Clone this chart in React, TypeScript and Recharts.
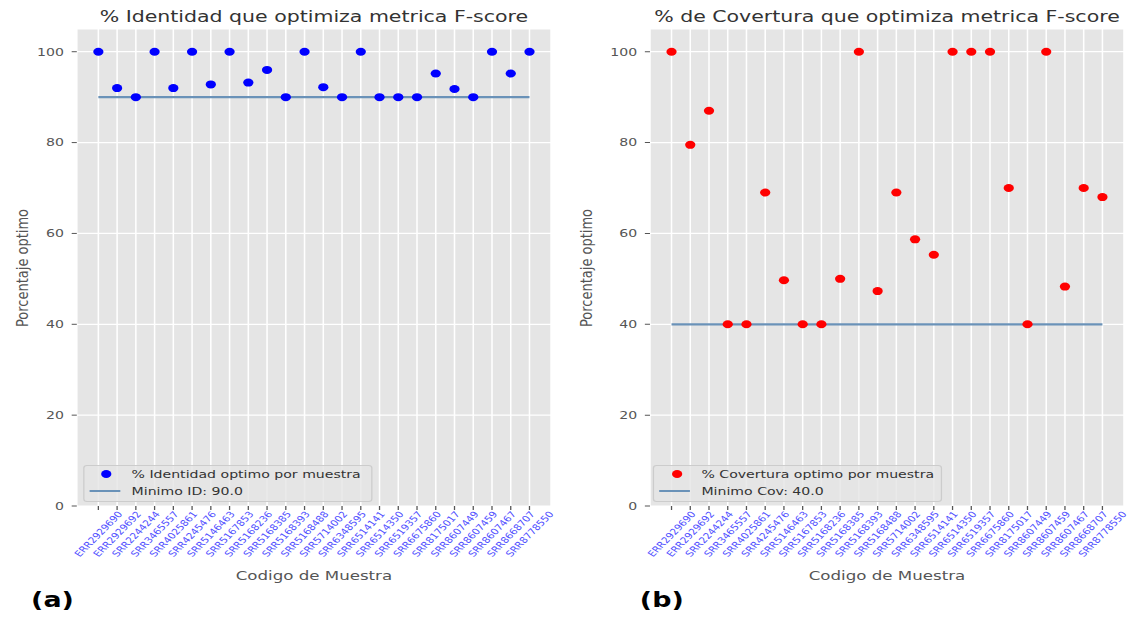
import { ScatterChart, Scatter, XAxis, YAxis, CartesianGrid } from "recharts";

const samples = [
  "ERR2929690", "ERR2929692", "SRR2244244", "SRR3465557", "SRR4025861", "SRR4245476",
  "SRR5146463", "SRR5167853", "SRR5168236", "SRR5168385", "SRR5168393", "SRR5168488",
  "SRR5714002", "SRR6348595", "SRR6514141", "SRR6514350", "SRR6519357", "SRR6675860",
  "SRR8175017", "SRR8607449", "SRR8607459", "SRR8607467", "SRR8668707", "SRR8778550",
];

const identityValues = [
  100, 92, 90, 100, 92, 100, 92.8, 100, 93.2, 96, 90, 100,
  92.2, 90, 100, 90, 90, 90, 95.2, 91.8, 90, 100, 95.2, 100,
];

const coverageValues = [
  100, 79.5, 87, 40, 40, 69, 49.7, 40, 40, 50, 100, 47.3,
  69, 58.7, 55.3, 100, 100, 100, 70, 40, 100, 48.3, 70, 68,
];

const minIdentity = 90;
const minCoverage = 40;
const yTicks = [0, 20, 40, 60, 80, 100];
const xTicks = samples.map((_, i) => i);

// the source figure is stretched sideways, so draw narrower and scale x
const SX = 1.28;
const PANEL_W = 441;
const H = 617;
const FONT = "'DejaVu Sans', sans-serif";
const LINE_COLOR = "#6a92b8";

const SampleTick = ({ x, y, payload }: any) => (
  <g transform={`translate(${x},${y + 22})`}>
    <text
      transform="rotate(-52)"
      textAnchor="middle"
      dominantBaseline="central"
      fontSize={8.5}
      fontFamily={FONT}
      fill="#5050ff"
    >
      {samples[payload.value]}
    </text>
  </g>
);

interface PanelProps {
  left: number;
  yAxisWidth: number;
  marginRight: number;
  title: string;
  values: number[];
  color: string;
  minValue: number;
  pointLabel: string;
  minLabel: string;
  tag: string;
  tagX: number;
  legendLeft: number;
}

const Panel = (p: PanelProps) => {
  const points = p.values.map((v, i) => ({ x: i, y: v }));
  const minLine = [
    { x: 0, y: p.minValue },
    { x: samples.length - 1, y: p.minValue },
  ];
  const plotCenter = p.yAxisWidth + (PANEL_W - p.yAxisWidth - p.marginRight) / 2;

  return (
    <div style={{ position: "absolute", left: p.left, top: 0, width: PANEL_W, height: H, fontFamily: FONT }}>
      <ScatterChart width={PANEL_W} height={H} margin={{ top: 29, right: p.marginRight, bottom: 51, left: 0 }}>
        <CartesianGrid fill="#e5e5e5" stroke="#ffffff" strokeWidth={1.2} />
        <XAxis
          type="number"
          dataKey="x"
          domain={[-1.15, 24.15]}
          ticks={xTicks}
          interval={0}
          allowDataOverflow
          axisLine={false}
          tickLine={{ stroke: "#555" }}
          tickSize={4}
          height={60}
          tick={<SampleTick />}
        />
        <YAxis
          type="number"
          dataKey="y"
          domain={[0, 105]}
          ticks={yTicks}
          allowDataOverflow
          width={p.yAxisWidth}
          axisLine={false}
          tickLine={{ stroke: "#555" }}
          tickSize={4}
          tickMargin={6}
          tick={{ fontSize: 11, fill: "#555", fontFamily: FONT }}
        />
        <Scatter
          data={minLine}
          line={{ stroke: LINE_COLOR, strokeWidth: 2.2 }}
          shape={() => <g />}
          isAnimationActive={false}
        />
        <Scatter
          data={points}
          isAnimationActive={false}
          shape={(s: any) => <circle cx={s.cx} cy={s.cy} r={4} fill={p.color} />}
        />
      </ScatterChart>

      <div style={{ position: "absolute", left: plotCenter, top: 17, transform: "translate(-50%,-50%)", fontSize: 16, lineHeight: 1, color: "#333", whiteSpace: "nowrap" }}>
        {p.title}
      </div>
      <div style={{ position: "absolute", left: 17, top: 268, transform: "translate(-50%,-50%) rotate(-90deg)", fontSize: 13, lineHeight: 1, color: "#555", whiteSpace: "nowrap" }}>
        Porcentaje optimo
      </div>
      <div style={{ position: "absolute", left: plotCenter, top: 575, transform: "translate(-50%,-50%)", fontSize: 13, lineHeight: 1, color: "#555", whiteSpace: "nowrap" }}>
        Codigo de Muestra
      </div>
      <div style={{ position: "absolute", left: p.tagX, top: 600, transform: "translate(-50%,-50%)", fontSize: 21, fontWeight: "bold", lineHeight: 1, color: "#000" }}>
        {p.tag}
      </div>

      <div
        style={{
          position: "absolute",
          left: p.legendLeft,
          top: 465,
          width: 226,
          height: 37,
          boxSizing: "border-box",
          background: "rgba(229,229,229,0.8)",
          border: "1px solid #cccccc",
          borderRadius: 3,
          fontSize: 11,
          color: "#333",
        }}
      >
        <div style={{ position: "absolute", left: 13.5, top: 4, width: 8, height: 8, borderRadius: "50%", background: p.color }} />
        <div style={{ position: "absolute", left: 37, top: 8, transform: "translateY(-50%)", lineHeight: 1, whiteSpace: "nowrap" }}>
          {p.pointLabel}
        </div>
        <div style={{ position: "absolute", left: 4, top: 24, width: 24, height: 2, background: LINE_COLOR }} />
        <div style={{ position: "absolute", left: 37, top: 25, transform: "translateY(-50%)", lineHeight: 1, whiteSpace: "nowrap" }}>
          {p.minLabel}
        </div>
      </div>
    </div>
  );
};

export default function App() {
  return (
    <div
      style={{
        position: "absolute",
        left: 0,
        top: 0,
        width: PANEL_W * 2,
        height: H,
        background: "#fff",
        transform: `scaleX(${SX})`,
        transformOrigin: "0 0",
      }}
    >
      <Panel
        left={0}
        yAxisWidth={60}
        marginRight={10.5}
        title="% Identidad que optimiza metrica F-score"
        values={identityValues}
        color="#0000ff"
        minValue={minIdentity}
        pointLabel="% Identidad optimo por muestra"
        minLabel={`Minimo ID: ${minIdentity.toFixed(1)}`}
        tag="(a)"
        tagX={41}
        legendLeft={64.8}
      />
      <Panel
        left={PANEL_W}
        yAxisWidth={66.8}
        marginRight={3.9}
        title="% de Covertura que optimiza metrica F-score"
        values={coverageValues}
        color="#ff0000"
        minValue={minCoverage}
        pointLabel="% Covertura optimo por muestra"
        minLabel={`Minimo Cov: ${minCoverage.toFixed(1)}`}
        tag="(b)"
        tagX={76}
        legendLeft={69}
      />
    </div>
  );
}
